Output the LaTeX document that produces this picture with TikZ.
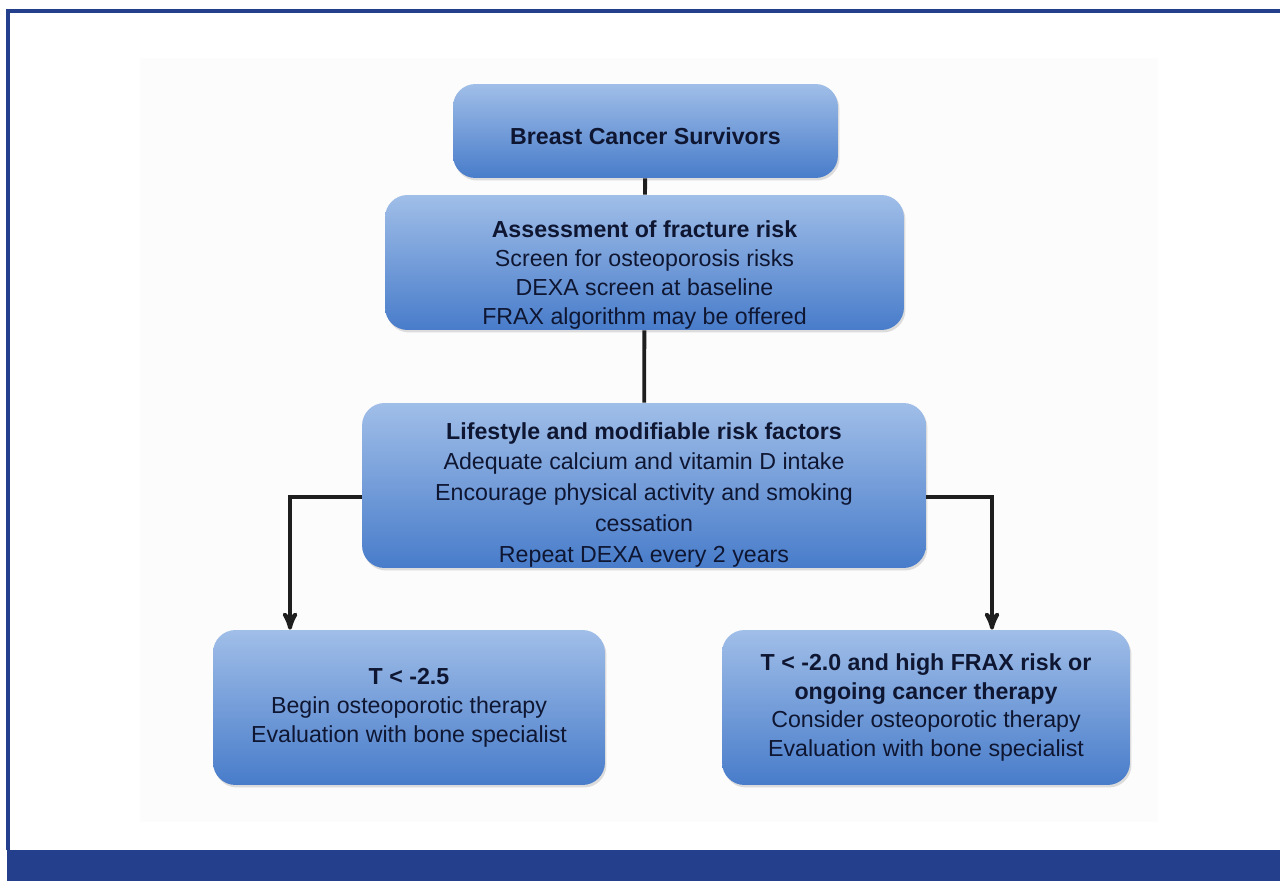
\documentclass[tikz,border=0pt]{standalone}
\usepackage{fontspec}
\setmainfont{Liberation Sans}
\usepackage{tikz}
\usetikzlibrary{arrows,shadows}

\definecolor{framebl}{RGB}{36,64,140}
\definecolor{boxtop}{RGB}{160,190,232}
\definecolor{boxbot}{RGB}{72,124,202}
\definecolor{boxtext}{RGB}{14,22,50}
\definecolor{linegray}{RGB}{30,30,30}
\newcommand{\padtop}[1]{\rule{0pt}{#1}}

\begin{document}
\begin{tikzpicture}[x=0.02cm, y=-0.02cm, inner sep=0pt]
    \tikzstyle{flowbox}=[rectangle, rounded corners=0.45cm, top color=boxtop, bottom color=boxbot, text=boxtext, align=center, font=\fontsize{13.2}{16.5}\selectfont, drop shadow={opacity=0.25, shadow xshift=0.03cm, shadow yshift=-0.05cm}]
    \tikzstyle{wire}=[draw=linegray, line width=2.2pt]
    \tikzstyle{link}=[wire, ->, >=stealth']

    \useasboundingbox (0,0) rectangle (1280,881);
    \fill[black!1] (140,58) rectangle (1158,822);
    \draw[framebl, line width=2pt] (8,850) -- (8,11) -- (1280,11);
    \fill[framebl] (7,850) rectangle (1280,881);

    \node[flowbox, minimum width=7.7cm, minimum height=1.88cm] (BCS) at (645.5,131) {\padtop{0.54cm}\textbf{Breast Cancer Survivors}};
    \node[flowbox, minimum width=10.38cm, minimum height=2.7cm] (Risk) at (644.5,262.5) {\padtop{0.84cm}\textbf{Assessment of fracture risk}\\Screen for osteoporosis risks\\DEXA screen at baseline\\FRAX algorithm may be offered};
    \node[flowbox, minimum width=11.28cm, minimum height=3.3cm, font=\fontsize{13.2}{17.5}\selectfont] (Life) at (644,485.5) {\padtop{0.7cm}\textbf{Lifestyle and modifiable risk factors}\\Adequate calcium and vitamin D intake\\Encourage physical activity and smoking\\cessation\\Repeat DEXA every 2 years};
    \node[flowbox, minimum width=7.84cm, minimum height=3.1cm] (Low) at (409,707.5) {\textbf{T < -2.5}\\Begin osteoporotic therapy\\Evaluation with bone specialist};
    \node[flowbox, minimum width=8.16cm, minimum height=3.1cm] (High) at (926,707.5) {\textbf{T < -2.0 and high FRAX risk or}\\\textbf{ongoing cancer therapy}\\Consider osteoporotic therapy\\Evaluation with bone specialist};

    \draw[wire] (BCS) -- (Risk);
    \draw[wire] (Risk) -- (Life);
    \draw[link] ([yshift=-0.23cm] Life.west) -| ([xshift=-2.38cm] Low.north);
    \draw[link] ([yshift=-0.23cm] Life.east) -| ([xshift=1.32cm] High.north);
\end{tikzpicture}
\end{document}
